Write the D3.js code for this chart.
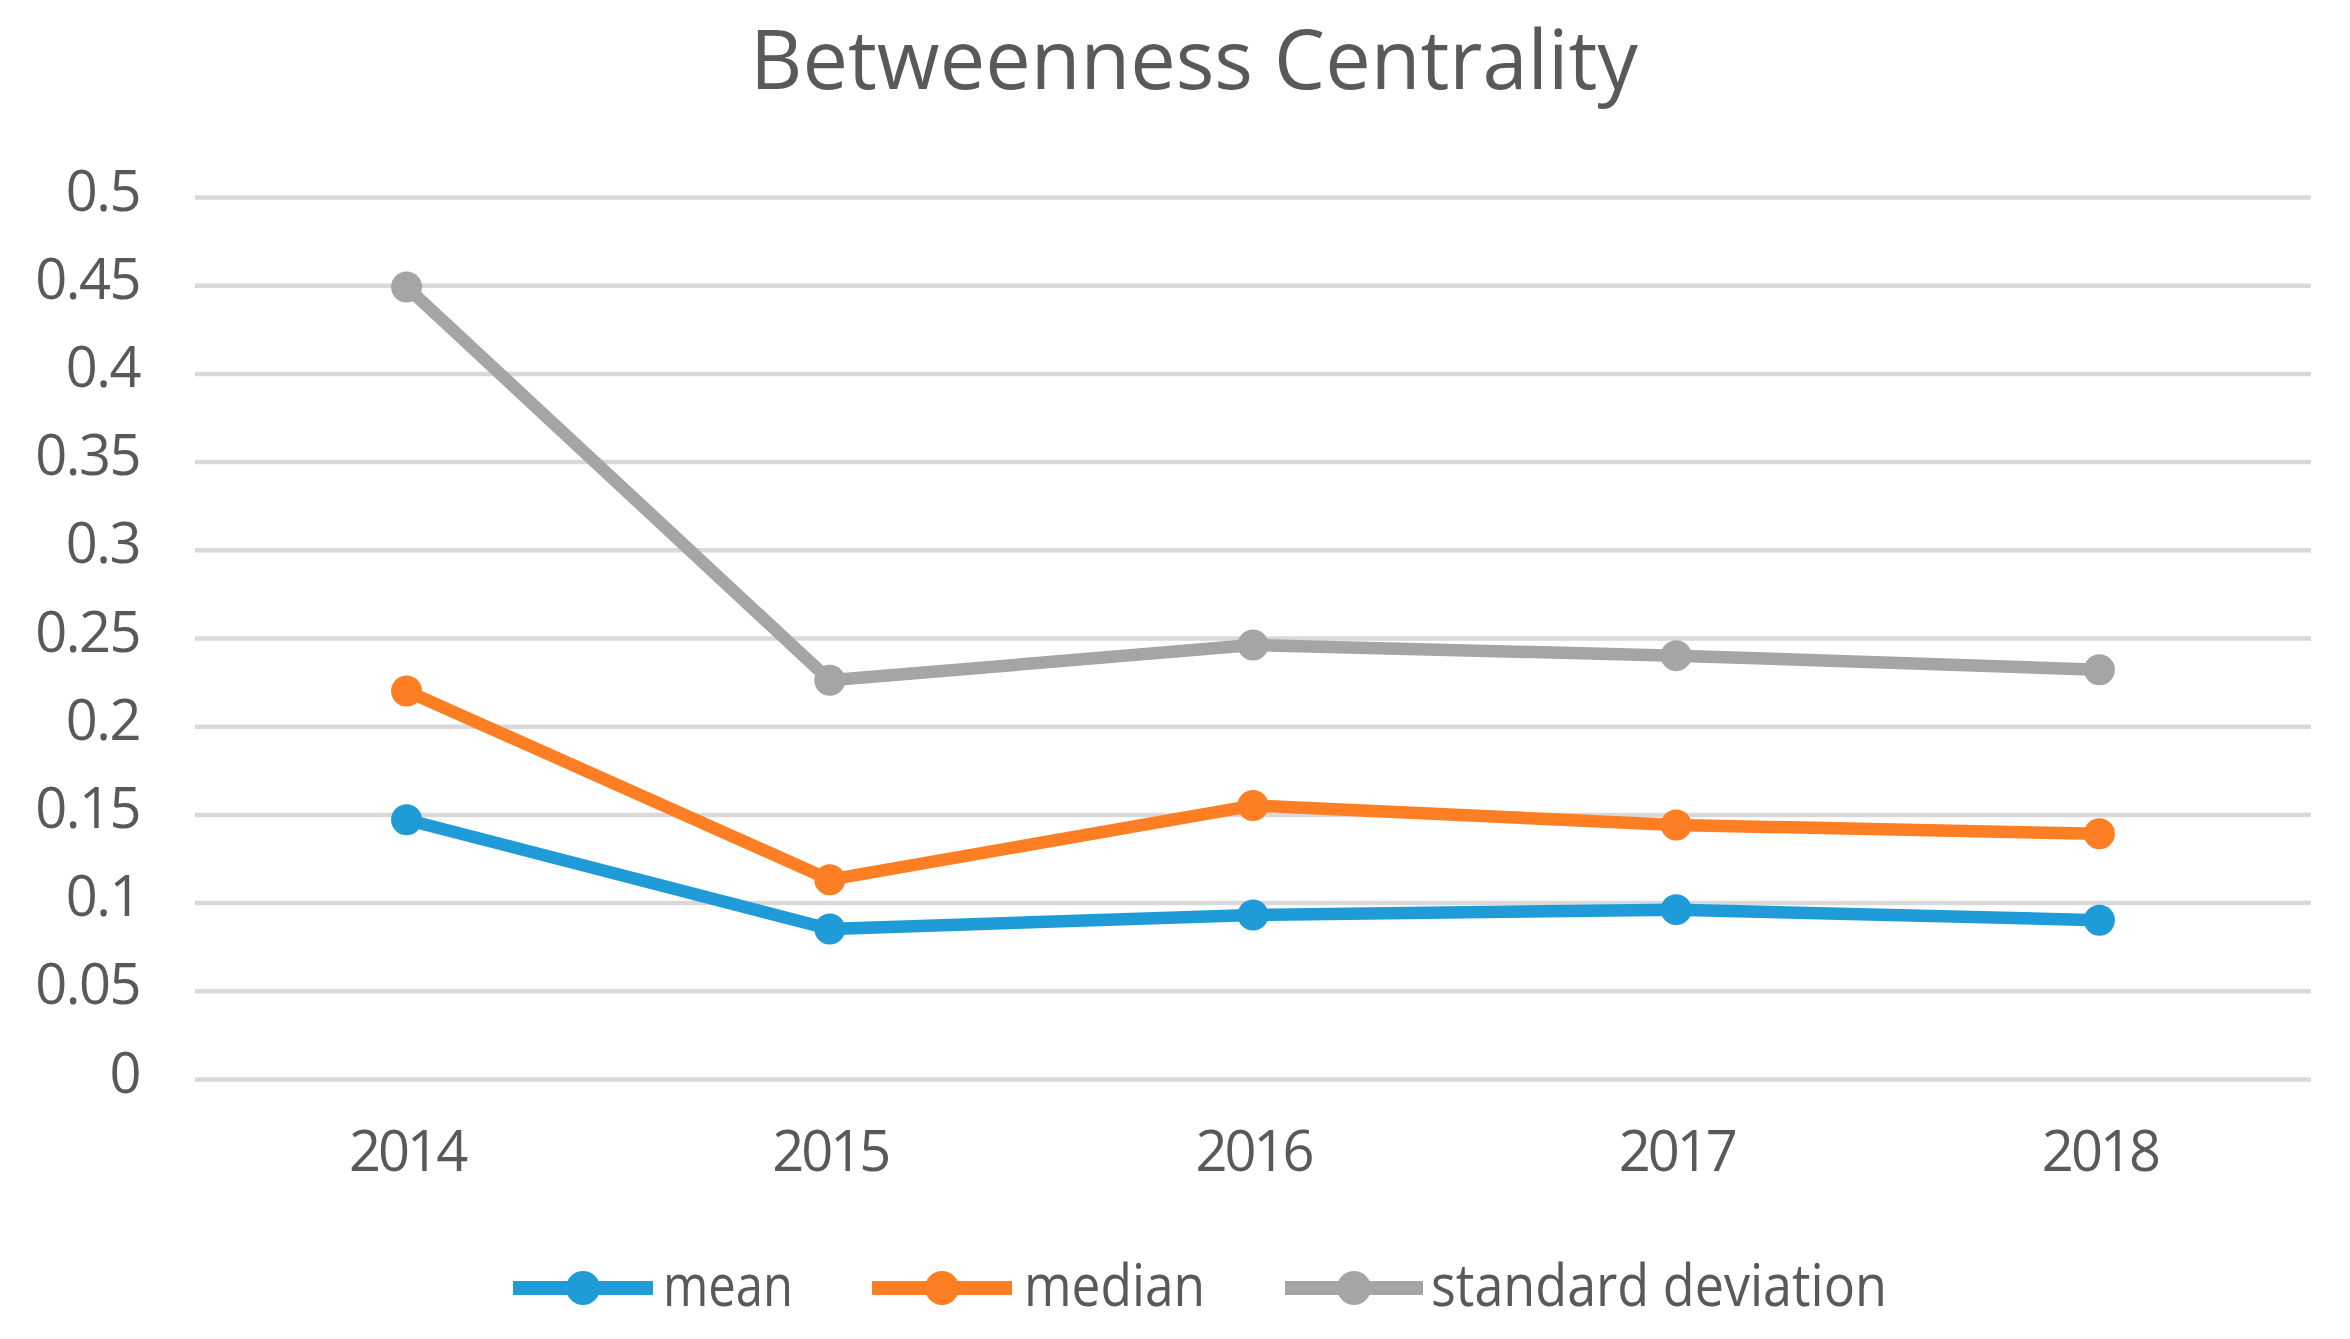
<!DOCTYPE html>
<html>
<head>
<meta charset="utf-8">
<script src="https://cdn.jsdelivr.net/npm/d3@7"></script>
<style>
  html, body { margin: 0; padding: 0; background: #ffffff; }
  svg { display: block; }
  text { font-family: "Open Sans", "DejaVu Sans", sans-serif; fill: #595959; }
</style>
</head>
<body>
<svg id="chart" width="2350" height="1339"></svg>
<script>
// ---- data ----
const title = "Betweenness Centrality";
const years = ["2014", "2015", "2016", "2017", "2018"];
const meanValues = [0.147, 0.085, 0.093, 0.096, 0.090];
const medianValues = [0.220, 0.113, 0.155, 0.144, 0.139];
const stdValues = [0.449, 0.226, 0.246, 0.240, 0.232];
const seriesNames = ["mean", "median", "standard deviation"];
const yTicks = [0, 0.05, 0.1, 0.15, 0.2, 0.25, 0.3, 0.35, 0.4, 0.45, 0.5];
const yTickLabels = ["0", "0.05", "0.1", "0.15", "0.2", "0.25", "0.3", "0.35", "0.4", "0.45", "0.5"];

// ---- styles / layout ----
const colors = ["#1f9cd8", "#fd7e23", "#a5a5a5"];
const svg = d3.select("#chart");
const plotLeft = 195, plotRight = 2311, plotTop = 197, plotBottom = 1079;

const x = d3.scalePoint().domain(years).range([plotLeft, plotRight]).padding(0.5);
const y = d3.scaleLinear().domain([0, 0.5]).range([plotBottom, plotTop]);

// title
svg.append("text")
  .attr("x", 1194).attr("y", 89)
  .attr("text-anchor", "middle")
  .attr("font-size", 83)
  .attr("textLength", 888).attr("lengthAdjust", "spacingAndGlyphs")
  .text(title);

// gridlines via axis
const yAxis = d3.axisLeft(y)
  .tickValues(yTicks)
  .tickSize(-(plotRight - plotLeft))
  .tickFormat((d, i) => yTickLabels[i]);
const gy = svg.append("g").attr("transform", `translate(${plotLeft},0)`).call(yAxis);
gy.select(".domain").remove();
gy.selectAll(".tick line").attr("stroke", "#d9d9d9").attr("stroke-width", 4.5);
gy.selectAll(".tick text")
  .attr("x", -55).attr("dy", null).attr("y", 13)
  .attr("font-size", 56)
  .attr("font-family", "'Open Sans', sans-serif")
  .attr("fill", "#595959")
  .attr("text-anchor", "end")
  .style("letter-spacing", "-1.5px");

// x axis labels
const xAxis = d3.axisBottom(x).tickSize(0);
const gx = svg.append("g").attr("transform", `translate(0,${plotBottom})`).call(xAxis);
gx.select(".domain").remove();
gx.selectAll(".tick text")
  .attr("y", 92).attr("dy", null)
  .attr("font-size", 56)
  .attr("font-family", "'Open Sans', sans-serif")
  .attr("fill", "#595959")
  .style("letter-spacing", "-3px");

// series
const series = [meanValues, medianValues, stdValues];
const line = d3.line().x((d, i) => x(years[i])).y(d => y(d));
series.forEach((vals, si) => {
  const g = svg.append("g");
  g.append("path")
    .datum(vals)
    .attr("d", line)
    .attr("fill", "none")
    .attr("stroke", colors[si])
    .attr("stroke-width", 12.5)
    .attr("stroke-linejoin", "round");
  g.selectAll("circle").data(vals).join("circle")
    .attr("cx", (d, i) => x(years[i]))
    .attr("cy", d => y(d))
    .attr("r", 15.5)
    .attr("fill", colors[si]);
});

// legend
const legendItems = [
  { name: seriesNames[0], x0: 513, x1: 653, tx: 663, tw: 130 },
  { name: seriesNames[1], x0: 872, x1: 1012, tx: 1024, tw: 181 },
  { name: seriesNames[2], x0: 1285, x1: 1423, tx: 1431, tw: 456 }
];
const legendY = 1288;
legendItems.forEach((it, i) => {
  svg.append("line")
    .attr("x1", it.x0).attr("x2", it.x1)
    .attr("y1", legendY).attr("y2", legendY)
    .attr("stroke", colors[i]).attr("stroke-width", 14);
  svg.append("circle")
    .attr("cx", (it.x0 + it.x1) / 2).attr("cy", legendY)
    .attr("r", 17).attr("fill", colors[i]);
  svg.append("text")
    .attr("x", it.tx).attr("y", 1306)
    .attr("font-size", 58)
    .attr("textLength", it.tw).attr("lengthAdjust", "spacingAndGlyphs")
    .text(it.name);
});
</script>
</body>
</html>
